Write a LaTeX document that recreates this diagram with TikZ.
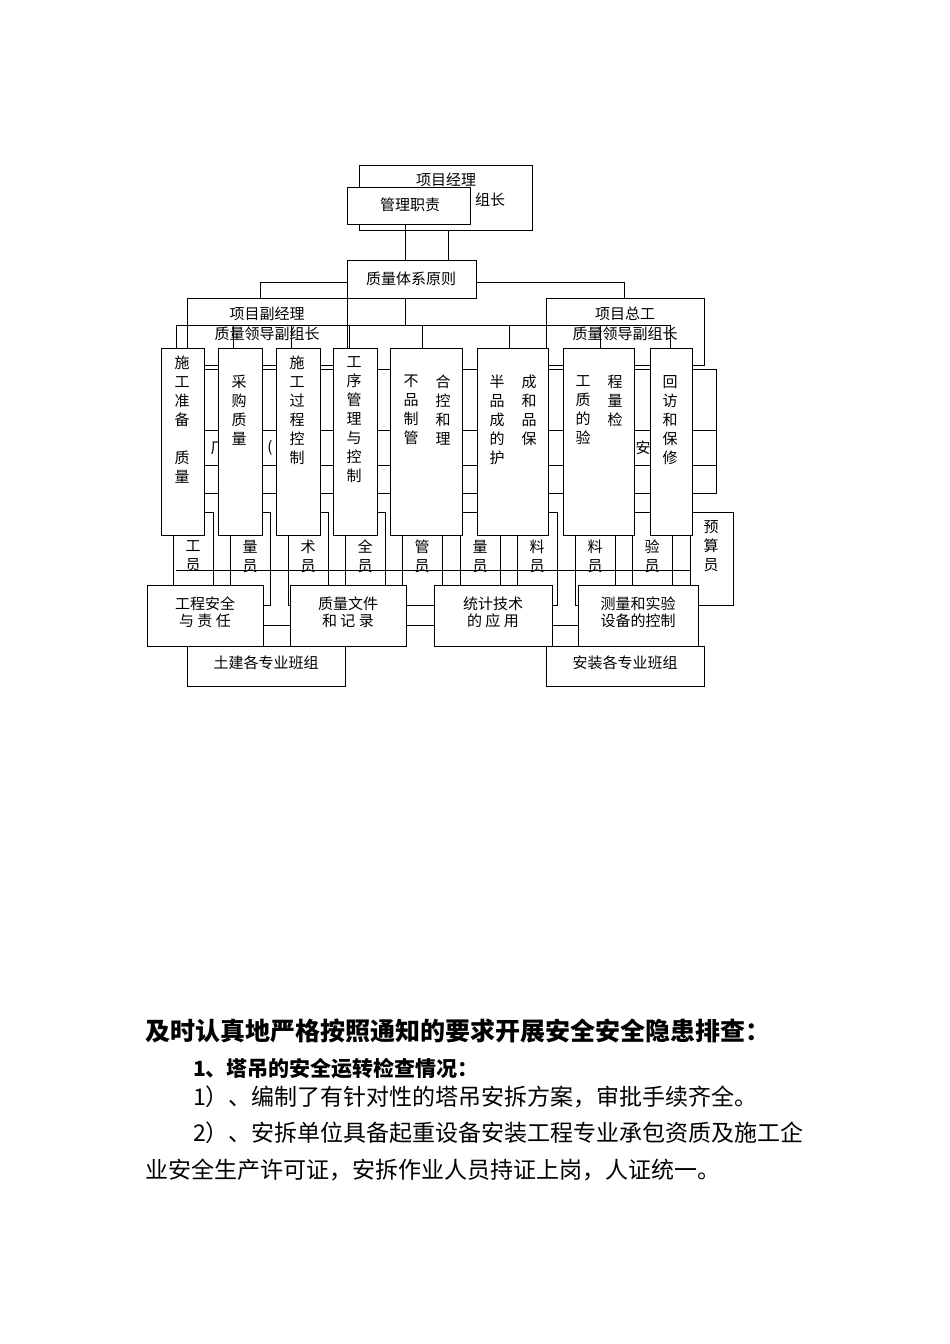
\documentclass[tikz,border=0pt]{standalone}
\usepackage{fontspec}
\setmainfont{Liberation Serif}
\newfontfamily\cjk{Noto Sans CJK SC}
\begin{document}
\begin{tikzpicture}[x=1pt,y=-1pt,
  bx/.style={draw,line width=0.9pt,fill=white},
  ln/.style={line width=0.9pt},
  lab/.style={font=\cjk\fontsize{15}{17}\selectfont,align=center,inner sep=0pt},
  vt/.style={font=\cjk\fontsize{15}{19}\selectfont,align=center,inner sep=0pt,anchor=north}]
\useasboundingbox (0,0) rectangle (950,1344);
% top
\draw[bx] (359,165) rectangle (532,230);
\node[lab] (pm) at (446,180) {项目经理};
\node[lab] at (490,200) {组长};
\draw[bx] (347,187) rectangle (470,224);
\node[lab] (gl) at (410,205) {管理职责};
\draw[bx] (347,260) rectangle (476,298);
\node[lab] (zl) at (411,279) {质量体系原则};
\draw[ln] (405,224) -- (405,260) (448,230) -- (448,260);
\draw[ln] (347,282) -- (260,282) -- (260,298) (476,282) -- (624,282) -- (624,298);
% deputy boxes
\draw[bx] (187,298) rectangle (347,365);
\draw[bx] (546,298) rectangle (704,365);
\node[lab] (fj) at (267,314) {项目副经理};
\node[lab] (zg) at (625,314) {项目总工};
% back boxes
\draw[bx] (170,369) rectangle (716,493);
\draw[ln] (170,430) -- (716,430) (170,465) -- (716,465);
\node[lab] at (218,448) {厂};
\node[lab] at (270,448) {(};
\node[lab] at (643,448) {安};
% bus
\draw[ln] (405,298) -- (405,325);
\draw[ln] (176,325) -- (670,325);
\foreach \x in {176,233,291,349,422,509,600,670} \draw[ln] (\x,325) -- (\x,348);
\node[lab,fill=none] at (267,334) {质量领导副组长};
\node[lab,fill=none] at (625,334) {质量领导副组长};
% 员 boxes
\foreach \x/\t in {193/工,250/量,308/术,365/全,422/管,480/量,537/料,595/料,652/验}{
  \draw[bx] (\x-20,512) rectangle (\x+20,605);
  \node[vt] at (\x,540) {\t\\员};}
\draw[ln] (176,570) -- (690,570);
\draw[bx] (690,512) rectangle (733,605);
\node[vt] (ys) at (711,520) {预\\算\\员};
% vertical boxes
\draw[bx] (161,348) rectangle (204,535);
\node[vt] at (182,356) {施\\工\\准\\备\\\\质\\量};
\draw[bx] (218,348) rectangle (262,535);
\node[vt] at (239,375) {采\\购\\质\\量};
\draw[bx] (276,348) rectangle (320,535);
\node[vt] at (297,356) {施\\工\\过\\程\\控\\制};
\draw[bx] (333,348) rectangle (377,535);
\node[vt] at (354,356) {工\\序\\管\\理\\与\\控\\制};
\draw[bx] (390,348) rectangle (462,535);
\node[vt] at (411,375) {不\\品\\制\\管};
\node[vt] at (443,375) {合\\控\\和\\理};
\draw[bx] (477,348) rectangle (548,535);
\node[vt] at (497,375) {半\\品\\成\\的\\护};
\node[vt] at (529,375) {成\\和\\品\\保};
\draw[bx] (563,348) rectangle (634,535);
\node[vt] at (583,375) {工\\质\\的\\验};
\node[vt] at (615,375) {程\\量\\检};
\draw[bx] (650,348) rectangle (692,535);
\node[vt] at (670,375) {回\\访\\和\\保\\修};
% bottom
\draw[bx] (187,646) rectangle (345,686);
\node[lab] (tj) at (266,663) {土建各专业班组};
\draw[bx] (546,646) rectangle (704,686);
\node[lab] (az) at (625,663) {安装各专业班组};
\draw[ln] (263,625) -- (290,625) (406,625) -- (434,625) (552,625) -- (578,625);
\draw[bx] (147,585) rectangle (263,646);
\node[lab] at (205,612) {工程安全\\与\ 责\ 任};
\draw[bx] (290,585) rectangle (406,646);
\node[lab] at (348,612) {质量文件\\和\ 记\ 录};
\draw[bx] (434,585) rectangle (552,646);
\node[lab] at (493,612) {统计技术\\的\ 应\ 用};
\draw[bx] (578,585) rectangle (698,646);
\node[lab] at (638,612) {测量和实验\\设备的控制};
% text
\node[anchor=west,inner sep=0pt,font=\cjk\bfseries\fontsize{25}{27}\selectfont] at (145,1031) {及时认真地严格按照通知的要求开展安全安全隐患排查：};
\node[anchor=west,inner sep=0pt,font=\cjk\bfseries\fontsize{21}{24}\selectfont] at (193,1069) {1、塔吊的安全运转检查情况：};
\node[anchor=west,inner sep=0pt,font=\cjk\fontsize{23}{26}\selectfont] at (193,1097) {1）、编制了有针对性的塔吊安拆方案，审批手续齐全。};
\node[anchor=west,inner sep=0pt,font=\cjk\fontsize{23}{26}\selectfont] at (193,1133) {2）、安拆单位具备起重设备安装工程专业承包资质及施工企};
\node[anchor=west,inner sep=0pt,font=\cjk\fontsize{23}{26}\selectfont] at (145,1170) {业安全生产许可证，安拆作业人员持证上岗，人证统一。};
\end{tikzpicture}
\end{document}
